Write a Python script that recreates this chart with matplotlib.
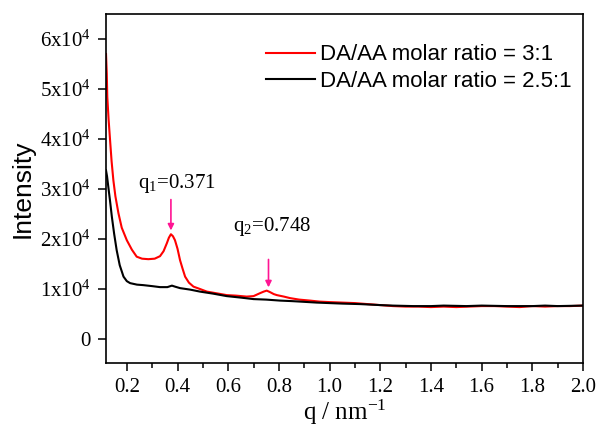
import matplotlib
matplotlib.use("Agg")
import matplotlib.pyplot as plt
from matplotlib.ticker import MultipleLocator, FuncFormatter

# ---- data (intensity in units of 1e4) ----
q_red = [0.118, 0.121, 0.123, 0.128, 0.134, 0.140, 0.147, 0.155, 0.167, 0.18, 0.2, 0.22, 0.239, 0.26,
         0.285, 0.31, 0.331, 0.345, 0.358, 0.366, 0.374, 0.382, 0.39, 0.40, 0.41, 0.42, 0.43, 0.445,
         0.463, 0.49, 0.516, 0.55, 0.594, 0.63, 0.673, 0.70, 0.726, 0.74, 0.752, 0.765, 0.78, 0.792,
         0.82, 0.844, 0.88, 0.923, 0.96, 1.0, 1.05, 1.1, 1.15, 1.2, 1.25, 1.3, 1.35, 1.4, 1.45, 1.5,
         1.55, 1.6, 1.65, 1.7, 1.75, 1.8, 1.85, 1.9, 1.95, 2.0]
I_red = [5.7, 5.3, 4.84, 4.4, 3.97, 3.55, 3.17, 2.85, 2.51, 2.22, 1.97, 1.78, 1.64, 1.6,
         1.59, 1.6, 1.65, 1.75, 1.91, 2.02, 2.09, 2.05, 1.97, 1.8, 1.57, 1.4, 1.24, 1.12,
         1.04, 0.99, 0.94, 0.91, 0.87, 0.86, 0.84, 0.85, 0.91, 0.94, 0.96, 0.93, 0.89, 0.87,
         0.84, 0.81, 0.78, 0.76, 0.74, 0.73, 0.72, 0.71, 0.69, 0.67, 0.65, 0.64, 0.64, 0.63, 0.64, 0.63,
         0.64, 0.65, 0.65, 0.64, 0.63, 0.65, 0.64, 0.65, 0.65, 0.66]

q_black = [0.118, 0.122, 0.127, 0.134, 0.141, 0.15, 0.16, 0.172, 0.187, 0.2, 0.213, 0.24, 0.265, 0.3,
           0.331, 0.36, 0.378, 0.39, 0.41, 0.45, 0.489, 0.54, 0.594, 0.65, 0.70, 0.75, 0.805, 0.85,
           0.884, 0.95, 1.0, 1.05, 1.12, 1.2, 1.25, 1.33, 1.4, 1.45, 1.54, 1.6, 1.7, 1.8, 1.85, 1.9, 2.0]
I_black = [3.37, 3.25, 3.04, 2.75, 2.44, 2.1, 1.77, 1.47, 1.24, 1.15, 1.11, 1.08, 1.07, 1.05,
           1.03, 1.03, 1.06, 1.04, 1.01, 0.98, 0.94, 0.9, 0.85, 0.82, 0.79, 0.78, 0.76, 0.75,
           0.74, 0.72, 0.71, 0.70, 0.69, 0.67, 0.66, 0.65, 0.65, 0.66, 0.65, 0.66, 0.65, 0.65, 0.66, 0.65, 0.66]

labels = ["DA/AA molar ratio = 3:1", "DA/AA molar ratio = 2.5:1"]
peak_q = [0.371, 0.748]
peak_labels = [r"q$\mathregular{_{1}}$=0.371", r"q$\mathregular{_{2}}$=0.748"]

SCALE = 1e4
serif = "Liberation Serif"
sans = "Liberation Sans"
plt.rcParams["mathtext.fontset"] = "custom"
plt.rcParams["mathtext.rm"] = serif

fig = plt.figure(figsize=(5.98, 4.28), dpi=100)
ax = fig.add_axes([0.1773, 0.1519, 0.975 - 0.1773, 0.967 - 0.1519])

ax.plot(q_red, [v * SCALE for v in I_red], color="#ff0000", lw=1.5, label=labels[0])
ax.plot(q_black, [v * SCALE for v in I_black], color="black", lw=1.5, label=labels[1])

ax.set_xlim(0.118, 2.0)
ax.set_ylim(-4900, 65000)

ax.xaxis.set_major_locator(MultipleLocator(0.2))
ax.xaxis.set_minor_locator(MultipleLocator(0.1))
ax.yaxis.set_major_locator(MultipleLocator(10000))
ax.xaxis.set_major_formatter(FuncFormatter(lambda v, p: f"{v:.1f}"))


def yfmt(v, p):
    n = int(round(v / SCALE))
    if n == 0:
        return "0"
    return r"%dx10$\mathregular{^{4}}$" % n


ax.yaxis.set_major_formatter(FuncFormatter(yfmt))
ax.tick_params(axis="both", which="major", direction="out", length=6, width=1.1, pad=5,
               top=False, right=False, labelsize=15)
ax.tick_params(axis="x", which="minor", direction="out", length=3.5, width=1.1)
for lab in ax.get_xticklabels() + ax.get_yticklabels():
    lab.set_fontfamily(serif)
for s in ax.spines.values():
    s.set_linewidth(1.2)

ax.set_ylabel("Intensity", fontfamily=sans, fontsize=19, labelpad=4)
ax.set_xlabel(r"q / nm$\mathregular{^{-1}}$", fontfamily=serif, fontsize=18, labelpad=0.5)

# peak annotations
pk_color = "#ff1493"
ax.annotate("", xy=(0.374, 2.11 * SCALE), xytext=(0.374, 2.84 * SCALE),
            arrowprops=dict(arrowstyle="-|>", color=pk_color, lw=1.2, mutation_scale=9))
ax.text(0.245, 3.11 * SCALE, peak_labels[0], fontsize=15, fontfamily=serif, va="center", ha="left")
ax.annotate("", xy=(0.759, 0.97 * SCALE), xytext=(0.759, 1.64 * SCALE),
            arrowprops=dict(arrowstyle="-|>", color=pk_color, lw=1.2, mutation_scale=9))
ax.text(0.619, 2.24 * SCALE, peak_labels[1], fontsize=15, fontfamily=serif, va="center", ha="left")

leg = ax.legend(loc="upper left", bbox_to_anchor=(0.335, 0.913), frameon=False,
                prop={"family": sans, "size": 16}, handlelength=2.2, handletextpad=0.25,
                labelspacing=0.25, borderpad=0, borderaxespad=0)

fig.savefig("out.png", dpi=100)
